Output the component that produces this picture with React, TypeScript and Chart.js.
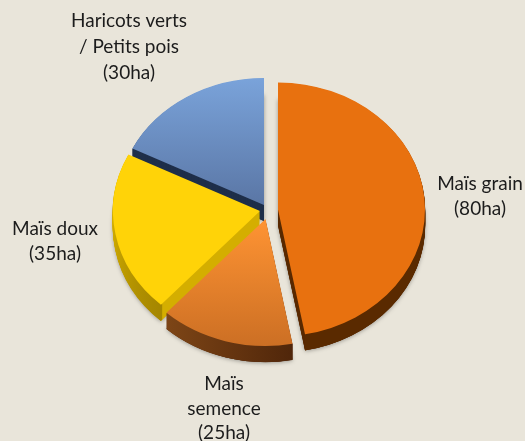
import React, { useEffect, useRef } from "react";
import { Chart, registerables } from "chart.js";

Chart.register(...registerables);

const categories = ["Maïs grain", "Maïs semence", "Maïs doux", "Haricots verts / Petits pois"];
const hectares = [80, 25, 35, 30];

const labelLines = [
  ["Maïs grain", "(80ha)"],
  ["Maïs", "semence", "(25ha)"],
  ["Maïs doux", "(35ha)"],
  ["Haricots verts", "/ Petits pois", "(30ha)"],
];
// label centre x, first baseline y, line height
const labelAnchors = [
  [480, 190, 24.5],
  [224, 390, 24.5],
  [55, 235, 24.5],
  [129, 27, 26],
];

const W = 525, H = 441;
const BG = "#e9e5da";
const CX = 267, CY = 210, R = 147, K = 127 / 147, DEPTH = 16;
// exploded position of each slice's apex on the page
const apex = [
  [278, 209.5],
  [265.5, 219],
  [260, 211],
  [264, 205],
];
const faceTop = ["#e8710f", "#ff9433", "#ffd308", "#7aa3da"];
const faceBottom = ["#e8710f", "#cc6f24", "#ffd308", "#5a76a5"];
const sideRadial = ["#5a2a00", "#54280c", "#d4ae00", "#1f2f4a"];
const sideLeft = ["#5a2a00", "#7d4516", "#d0aa00", "#1f2f4a"];
const sideRight = ["#5a2a00", "#50260a", "#947800", "#1f2f4a"];
const extrudeOrder = [3, 0, 2, 1];
const faceOrder = [3, 0, 2, 1];
const faceSpan = [[83, 336], [218, 346], [155, 307], [78, 205]];

const localY = (Y: number) => CY + (Y - CY) / K;

function withSlice(ctx: CanvasRenderingContext2D, i: number, dy: number, fn: () => void) {
  ctx.save();
  ctx.translate(apex[i][0] - CX, apex[i][1] - CY + dy);
  ctx.translate(CX, CY);
  ctx.scale(1, K);
  ctx.translate(-CX, -CY);
  fn();
  ctx.restore();
}

const pieStage = {
  id: "pieStage",
  beforeDatasetDraw() {
    return false;
  },
  afterDatasetsDraw(chart: any) {
    const ctx: CanvasRenderingContext2D = chart.ctx;
    const arcs = chart.getDatasetMeta(0).data;
    for (const i of extrudeOrder) {
      const a = arcs[i];
      const path = () => {
        ctx.beginPath();
        ctx.moveTo(a.x, a.y);
        ctx.arc(a.x, a.y, a.outerRadius, a.startAngle, a.endAngle);
        ctx.closePath();
      };
      ctx.save();
      ctx.shadowColor = "rgba(0,0,0,0.35)";
      ctx.shadowBlur = 4;
      ctx.shadowOffsetY = 1;
      withSlice(ctx, i, DEPTH, () => {
        ctx.fillStyle = sideRadial[i];
        path();
        ctx.fill();
      });
      ctx.restore();
      for (let d = DEPTH; d >= 1; d--) {
        withSlice(ctx, i, d, () => {
          ctx.fillStyle = sideRadial[i];
          path();
          ctx.fill();
        });
      }
      const x0 = a.x + a.outerRadius * Math.min(Math.cos(a.startAngle), Math.cos(a.endAngle));
      const x1 = a.x + a.outerRadius * Math.max(Math.cos(a.startAngle), Math.cos(a.endAngle));
      const g = ctx.createLinearGradient(x0, 0, x1, 0);
      g.addColorStop(0, sideLeft[i]);
      g.addColorStop(1, sideRight[i]);
      for (let d = DEPTH; d >= 1; d--) {
        withSlice(ctx, i, d, () => {
          ctx.strokeStyle = i === 2 ? (() => {
            const yg = ctx.createLinearGradient(0, a.y, 0, a.y + a.outerRadius);
            yg.addColorStop(0, "#d4ae00");
            yg.addColorStop(1, "#947800");
            return yg;
          })() : g;
          ctx.lineWidth = 2.5;
          ctx.beginPath();
          ctx.arc(a.x, a.y, a.outerRadius - 1, a.startAngle, a.endAngle);
          ctx.stroke();
        });
      }
    }
    for (const i of faceOrder) {
      withSlice(ctx, i, 0, () => arcs[i].draw(ctx));
    }
    ctx.save();
    ctx.fillStyle = "#1c1c1c";
    ctx.font = '19px Lato, "Open Sans", sans-serif';
    ctx.textAlign = "center";
    ctx.textBaseline = "alphabetic";
    labelLines.forEach((lines, i) => {
      const [x, y, lh] = labelAnchors[i];
      lines.forEach((t, j) => ctx.fillText(t, x, y + j * lh));
    });
    ctx.restore();
  },
};

export default function App() {
  const ref = useRef<HTMLCanvasElement>(null);
  useEffect(() => {
    document.body.style.margin = "0";
    document.body.style.background = BG;
    const canvas = ref.current!;
    const ctx = canvas.getContext("2d")!;
    const colors = categories.map((_, i) => {
      const g = ctx.createLinearGradient(0, localY(faceSpan[i][0]) - (apex[i][1] - CY) / K, 0, localY(faceSpan[i][1]) - (apex[i][1] - CY) / K);
      g.addColorStop(0, faceTop[i]);
      g.addColorStop(1, faceBottom[i]);
      return g;
    });
    const chart = new Chart(canvas, {
      type: "pie",
      data: {
        labels: categories,
        datasets: [{ data: hectares, backgroundColor: colors, borderWidth: 0, radius: R }],
      },
      options: {
        responsive: false,
        animation: false,
        rotation: 0,
        layout: { padding: { left: 2 * CX - W, right: 0, top: 0, bottom: H - 2 * CY } },
        plugins: { legend: { display: false }, tooltip: { enabled: false }, title: { display: false } },
      },
      plugins: [pieStage],
    } as any);
    return () => chart.destroy();
  }, []);
  return <canvas ref={ref} width={W} height={H} style={{ display: "block", background: BG }} />;
}
